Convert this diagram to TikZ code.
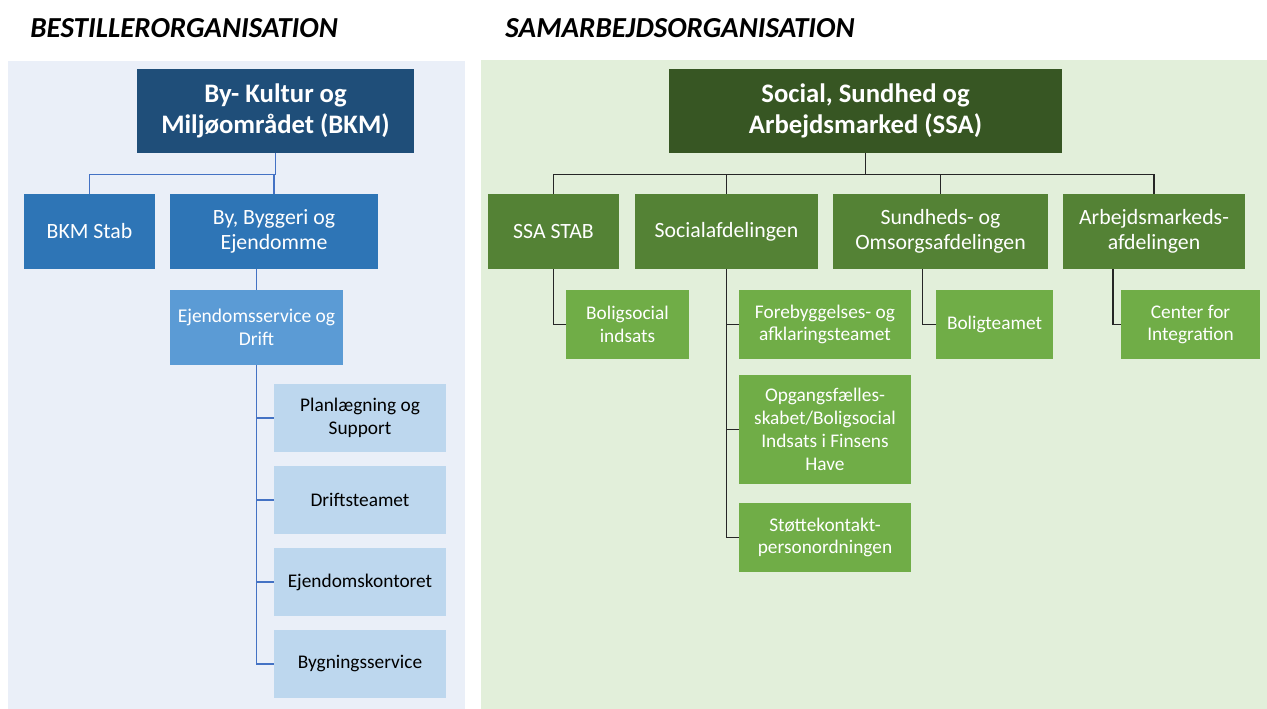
\documentclass[tikz,border=0pt]{standalone}
\usepackage{fontspec}
\setmainfont{Carlito}
\usepackage{tikz}
\usetikzlibrary{positioning,calc}

\definecolor{bkmpanel}{HTML}{EAEFF8}
\definecolor{bkmdark}{HTML}{1F4E79}
\definecolor{bkmmid}{HTML}{2E75B6}
\definecolor{bkmlight}{HTML}{5B9BD5}
\definecolor{bkmpale}{HTML}{BDD7EE}
\definecolor{bkmline}{HTML}{4472C4}
\definecolor{ssapanel}{HTML}{E2EFDA}
\definecolor{ssadark}{HTML}{375623}
\definecolor{ssamid}{HTML}{548235}
\definecolor{ssalight}{HTML}{70AD47}

\tikzset{
    box/.style = {
        shape=rectangle,
        align=center,
        inner sep=2pt,
        text=white,
        font=\fontsize{12.4}{14.2}\selectfont
    },
    topbox/.style = {
        box,
        minimum height=1.68cm,
        font=\fontsize{15.2}{17.6}\selectfont\bfseries
    },
    deptbox/.style = {
        box,
        minimum height=1.5cm
    },
    teambox/.style = {
        box,
        minimum height=1.38cm,
        font=\fontsize{11}{13}\selectfont
    },
    heading/.style = {
        anchor=west,
        inner sep=0pt,
        font=\fontsize{16.5}{19}\selectfont\bfseries\itshape
    },
    blueline/.style = {
        draw=bkmline,
        line width=0.85pt
    },
    greenline/.style = {
        draw=black!85,
        line width=0.85pt
    },
}

\begin{document}
\begin{tikzpicture}[x=0.02cm, y=-0.02cm]
            \useasboundingbox (0,0) rectangle (1267,709);
            \fill[white] (0,0) rectangle (1267,709);
            \fill[bkmpanel] (8,61) rectangle (465,709);
            \fill[ssapanel] (481,60) rectangle (1267,709);

            \node[heading] (bestil) at (30,28) {BESTILLERORGANISATION};
            \node[heading] (samarb) at (505,28) {SAMARBEJDSORGANISATION};

            % bestillerorganisation
            \node[topbox, fill=bkmdark, minimum width=5.54cm] (bkm) at (275.5,111) {By- Kultur og\\Miljøområdet (BKM)};
            \node[deptbox, fill=bkmmid, minimum width=2.62cm] (bkmstab) at (89.5,231.5) {BKM Stab};
            \node[deptbox, fill=bkmmid, minimum width=4.16cm] (byg) at (274,231.5) {By, Byggeri og\\Ejendomme};
            \node[deptbox, fill=bkmlight, minimum width=3.46cm, font=\fontsize{11.1}{13}\selectfont] (ejd) at (256.5,327.5) {Ejendomsservice og\\Drift};
            \node[teambox, fill=bkmpale, text=black, minimum width=3.44cm] (plan) at (360,418) {Planlægning og\\Support};
            \node[teambox, fill=bkmpale, text=black, minimum width=3.44cm] (drift) at (360,500) {Driftsteamet};
            \node[teambox, fill=bkmpale, text=black, minimum width=3.44cm] (ejdk) at (360,582) {Ejendomskontoret};
            \node[teambox, fill=bkmpale, text=black, minimum width=3.44cm] (bygs) at (360,664) {Bygningsservice};

            \path[blueline] (bkm.south) -- ++(0,21) -| (bkmstab.north);
            \path[blueline] (bkm.south) -- ++(0,21) -| (byg.north);
            \path[blueline] (byg.south -| ejd.north) -- (ejd.north);
            \path[blueline] (ejd.south) |- (plan.west);
            \path[blueline] (ejd.south) |- (drift.west);
            \path[blueline] (ejd.south) |- (ejdk.west);
            \path[blueline] (ejd.south) |- (bygs.west);

            % samarbejdsorganisation
            \node[topbox, fill=ssadark, minimum width=7.86cm] (ssa) at (865.5,111) {Social, Sundhed og\\Arbejdsmarked (SSA)};
            \node[deptbox, fill=ssamid, minimum width=2.62cm] (ssastab) at (553.5,231.5) {SSA STAB};
            \node[deptbox, fill=ssamid, minimum width=3.66cm] (socafd) at (726.5,231.5) {Socialafdelingen};
            \node[deptbox, fill=ssamid, minimum width=4.3cm] (sund) at (940.5,231.5) {Sundheds- og\\Omsorgsafdelingen};
            \node[deptbox, fill=ssamid, minimum width=3.64cm] (arb) at (1154,231.5) {Arbejdsmarkeds-\\afdelingen};

            \node[teambox, fill=ssalight, minimum width=2.46cm] (bolig) at (627.5,324.5) {Boligsocial\\indsats};
            \node[teambox, fill=ssalight, minimum width=3.44cm] (foreb) at (825,324.5) {Forebyggelses- og\\afklaringsteamet};
            \node[teambox, fill=ssalight, minimum width=3.44cm, minimum height=2.18cm] (opg) at (825,429.5) {Opgangsfælles-\\skabet/Boligsocial\\Indsats i Finsens\\Have};
            \node[teambox, fill=ssalight, minimum width=3.44cm] (stoet) at (825,537.5) {Støttekontakt-\\personordningen};
            \node[teambox, fill=ssalight, minimum width=2.34cm] (boligteam) at (994.5,324.5) {Boligteamet};
            \node[teambox, fill=ssalight, minimum width=2.78cm] (cfi) at (1190.5,324.5) {Center for\\Integration};

            \path[greenline] (ssa.south) -- ++(0,21) -| (ssastab.north);
            \path[greenline] (ssa.south) -- ++(0,21) -| (socafd.north);
            \path[greenline] (ssa.south) -- ++(0,21) -| (sund.north);
            \path[greenline] (ssa.south) -- ++(0,21) -| (arb.north);
            \path[greenline] (ssastab.south) |- (bolig.west);
            \path[greenline] (socafd.south) |- (foreb.west);
            \path[greenline] (socafd.south) |- (opg.west);
            \path[greenline] (socafd.south) |- (stoet.west);
            \path[greenline] ($(sund.south)+(-18,0)$) |- (boligteam.west);
            \path[greenline] ($(arb.south)+(-41,0)$) |- (cfi.west);
        \end{tikzpicture}
\end{document}
